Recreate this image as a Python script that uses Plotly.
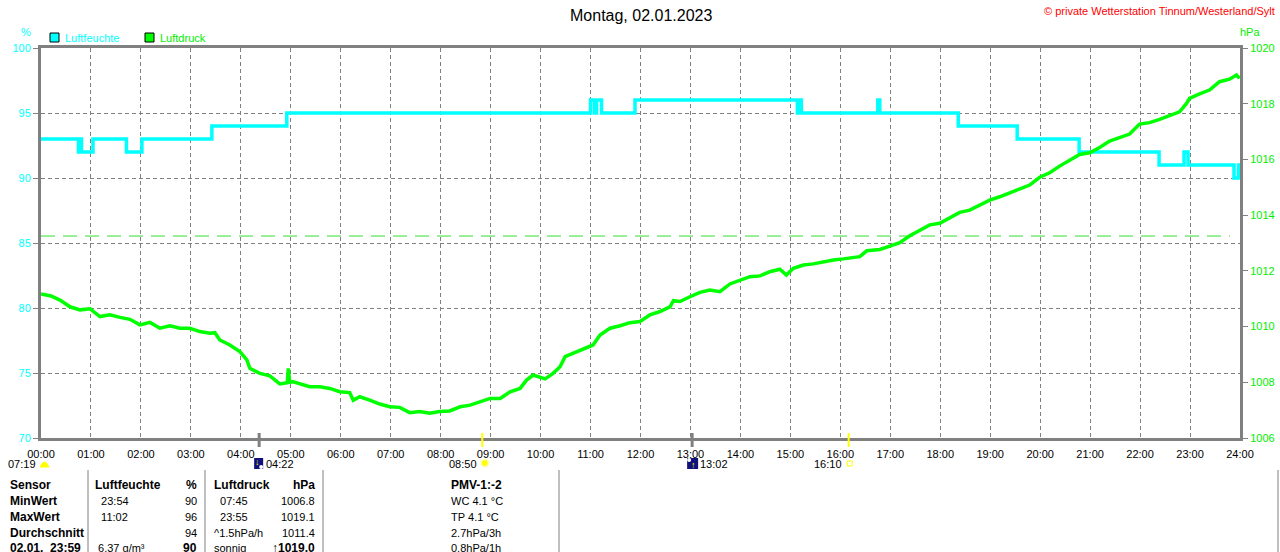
import plotly.graph_objects as go

# ---------------- data ----------------
HOURS = list(range(0, 25))
HOUR_LABELS = [f"{h:02d}:00" for h in HOURS]

HUM_TICKS = [70, 75, 80, 85, 90, 95, 100]
PRES_TICKS = [1006, 1008, 1010, 1012, 1014, 1016, 1018, 1020]

# Luftfeuchte (%) - step series, time in hours
H_TIME = [0.0, 0.75, 0.78, 0.81, 1.04, 1.71, 2.02, 3.42, 4.92, 11.00, 11.08, 11.12,
          11.22, 11.89, 15.14, 15.17, 15.22, 16.75, 16.79, 18.36, 19.54, 20.78,
          22.38, 22.88, 22.96, 23.88, 23.97, 24.0]
H_VAL = [93, 92, 93, 92, 93, 92, 93, 94, 95, 96, 95, 96,
         95, 96, 95, 96, 95, 96, 95, 94, 93, 92,
         91, 92, 91, 90, 91, 91]

# Luftdruck (hPa), time in hours
P_TIME = [0.0, 0.2, 0.38, 0.58, 0.78, 0.98, 1.18, 1.38, 1.58, 1.78, 1.98, 2.18, 2.38,
          2.58, 2.78, 2.98, 3.18, 3.38, 3.48, 3.58, 3.78, 3.98, 4.12, 4.18, 4.38, 4.58,
          4.78, 4.93, 4.95, 4.98, 5.05, 5.18, 5.38, 5.58, 5.78, 5.98, 6.18, 6.25, 6.38,
          6.58, 6.78, 6.98, 7.18, 7.38, 7.58, 7.78, 7.98, 8.18, 8.39, 8.59, 8.79, 8.99,
          9.19, 9.39, 9.59, 9.72, 9.85, 9.99, 10.09, 10.25, 10.39, 10.49, 10.65, 10.85,
          11.05, 11.19, 11.39, 11.59, 11.79, 11.99, 12.19, 12.39, 12.59, 12.66, 12.79,
          12.99, 13.19, 13.39, 13.59, 13.79, 13.99, 14.19, 14.39, 14.59, 14.79, 14.92,
          15.06, 15.26, 15.46, 15.66, 15.86, 16.06, 16.26, 16.39, 16.53, 16.79, 16.99,
          17.19, 17.39, 17.59, 17.79, 17.99, 18.19, 18.39, 18.59, 18.79, 18.99, 19.19,
          19.39, 19.59, 19.79, 19.99, 20.19, 20.39, 20.59, 20.79, 20.99, 21.19, 21.39,
          21.59, 21.79, 21.99, 22.19, 22.39, 22.59, 22.79, 22.93, 22.99, 23.19, 23.39,
          23.59, 23.79, 23.93, 23.99]
P_VAL = [1011.17, 1011.10, 1010.95, 1010.71, 1010.60, 1010.64, 1010.36, 1010.42, 1010.33,
         1010.26, 1010.06, 1010.15, 1009.94, 1010.03, 1009.94, 1009.94, 1009.82, 1009.76,
         1009.78, 1009.52, 1009.34, 1009.10, 1008.80, 1008.50, 1008.32, 1008.23, 1007.94,
         1007.98, 1008.50, 1008.00, 1008.02, 1007.96, 1007.84, 1007.84, 1007.78, 1007.66,
         1007.63, 1007.35, 1007.48, 1007.36, 1007.22, 1007.12, 1007.10, 1006.91, 1006.95,
         1006.89, 1006.95, 1006.97, 1007.12, 1007.18, 1007.30, 1007.42, 1007.42, 1007.66,
         1007.78, 1008.08, 1008.26, 1008.17, 1008.12, 1008.32, 1008.56, 1008.92, 1009.04,
         1009.16, 1009.34, 1009.70, 1009.94, 1010.03, 1010.14, 1010.18, 1010.42, 1010.54,
         1010.71, 1010.93, 1010.90, 1011.07, 1011.23, 1011.31, 1011.25, 1011.53, 1011.67,
         1011.79, 1011.82, 1011.97, 1012.06, 1011.85, 1012.09, 1012.21, 1012.25, 1012.33,
         1012.39, 1012.43, 1012.47, 1012.51, 1012.72, 1012.77, 1012.89, 1013.01, 1013.26,
         1013.47, 1013.65, 1013.71, 1013.89, 1014.10, 1014.18, 1014.36, 1014.54, 1014.66,
         1014.81, 1014.93, 1015.08, 1015.36, 1015.52, 1015.76, 1015.98, 1016.18, 1016.24,
         1016.43, 1016.66, 1016.79, 1016.91, 1017.27, 1017.32, 1017.44, 1017.56, 1017.71,
         1018.01, 1018.19, 1018.35, 1018.49, 1018.79, 1018.88, 1019.03, 1018.91]

STD_PRESSURE = 1013.25
STD_LINE_END = 23.8

# astronomical events (hours)
MOONSET = 4 + 22 / 60
SUNRISE = 8 + 50 / 60
MOONRISE = 13 + 2 / 60
SUNSET = 16 + 10 / 60
DAY_LENGTH = "07:19"

TITLE = "Montag, 02.01.2023"
COPYRIGHT = "© private Wetterstation Tinnum/Westerland/Sylt"

# info table
COL_SENSOR = ["Sensor", "MinWert", "MaxWert", "Durchschnitt", "02.01.  23:59"]
COL_H_TXT = ["Luftfeuchte", "  23:54", "  11:02", "", " 6.37 g/m³"]
COL_H_VAL = ["%", "90", "96", "94", "90"]
COL_P_TXT = ["Luftdruck", "  07:45", "  23:55", "^1.5hPa/h", "sonnig"]
COL_P_VAL = ["hPa", "1006.8", "1019.1", "1011.4", "↑1019.0"]
COL_PMV = ["PMV-1:-2", "WC 4.1 °C", "TP 4.1 °C", "2.7hPa/3h", "0.8hPa/1h"]

# ---------------- geometry ----------------
W, H = 1280, 552
L, R, T, B = 41, 1240, 48, 438
FONT = "Liberation Sans, Arial, sans-serif"
GRAY = "#808080"
CYAN = "#00ffff"
GREEN = "#00ee00"


def px(x):
    return (x - L) / (R - L)


def py(y):
    return (B - y) / (B - T)


def tx(t):
    return L + t / 24 * (R - L)


fig = go.Figure()
fig.add_trace(go.Scatter(x=P_TIME, y=P_VAL, yaxis="y2", mode="lines",
                         line=dict(color="#00ff00", width=3.5), name="Luftdruck",
                         showlegend=False, hoverinfo="skip"))
fig.add_trace(go.Scatter(x=H_TIME, y=H_VAL, mode="lines",
                         line=dict(color=CYAN, width=3.5, shape="hv"), name="Luftfeuchte",
                         showlegend=False, hoverinfo="skip"))

shapes = []
ann = []

# standard pressure reference line
shapes.append(dict(type="line", xref="x", yref="y2", x0=0, x1=STD_LINE_END,
                   y0=STD_PRESSURE, y1=STD_PRESSURE,
                   line=dict(color="#33dd33", width=1, dash="14px,8px"), layer="below"))

# title, copyright, axis units
ann.append(dict(text=TITLE, x=px(641), y=py(15), xref="paper", yref="paper",
                showarrow=False, xanchor="center", yanchor="middle",
                font=dict(family=FONT, size=16, color="black")))
ann.append(dict(text=COPYRIGHT, x=px(1277), y=py(11), xref="paper", yref="paper",
                showarrow=False, xanchor="right", yanchor="middle",
                font=dict(family=FONT, size=11, color="#ff0000")))
ann.append(dict(text="%", x=px(26), y=py(32), xref="paper", yref="paper",
                showarrow=False, xanchor="center", yanchor="middle",
                font=dict(family=FONT, size=11, color=CYAN)))
ann.append(dict(text="hPa", x=px(1250), y=py(32), xref="paper", yref="paper",
                showarrow=False, xanchor="center", yanchor="middle",
                font=dict(family=FONT, size=11, color=GREEN)))

# legend
for x0, col, txt, tcol in [(50, CYAN, "Luftfeuchte", CYAN), (145, "#00ff00", "Luftdruck", GREEN)]:
    shapes.append(dict(type="rect", xref="paper", yref="paper",
                       x0=px(x0), x1=px(x0 + 9), y0=py(42), y1=py(33),
                       fillcolor=col, line=dict(color="black", width=1)))
    ann.append(dict(text=txt, x=px(x0 + 13), y=py(38), xref="paper", yref="paper",
                    showarrow=False, xanchor="left", yanchor="middle",
                    font=dict(family=FONT, size=11, color=tcol)))

# event markers on the time axis
for t, col, w in [(MOONSET, GRAY, 3), (SUNRISE, "#ffff00", 2), (MOONRISE, GRAY, 3), (SUNSET, "#ffff00", 2)]:
    shapes.append(dict(type="line", xref="x", yref="paper", x0=t, x1=t,
                       y0=py(447), y1=py(433), line=dict(color=col, width=w)))

ROW_EV = 464
small = dict(family=FONT, size=11, color="black")
# day length + sunrise dome
ann.append(dict(text=DAY_LENGTH, x=px(38), y=py(ROW_EV), xref="paper", yref="paper",
                showarrow=False, xanchor="right", yanchor="middle", font=small))
shapes.append(dict(type="path", xref="paper", yref="paper",
                   path=f"M {px(40)},{py(467)} Q {px(44.5)},{py(457)} {px(49)},{py(467)} Z",
                   fillcolor="#ffff00", line=dict(color="#ffff00", width=1)))

# moonset icon
mx = tx(MOONSET)
shapes.append(dict(type="rect", xref="paper", yref="paper", x0=px(mx - 5), x1=px(mx + 4),
                   y0=py(469), y1=py(458), fillcolor="#10107a", line=dict(width=0)))
shapes.append(dict(type="circle", xref="paper", yref="paper", x0=px(mx), x1=px(mx + 4),
                   y0=py(469), y1=py(465), fillcolor="white", line=dict(width=0)))
ann.append(dict(text="<b>↓</b>", x=px(mx - 2), y=py(462), xref="paper", yref="paper",
                showarrow=False, xanchor="center", yanchor="middle",
                font=dict(family=FONT, size=9, color="#ffff00")))
ann.append(dict(text="04:22", x=px(mx + 5), y=py(ROW_EV), xref="paper", yref="paper",
                showarrow=False, xanchor="left", yanchor="middle", font=small))

# sunrise icon
sx = tx(SUNRISE)
shapes.append(dict(type="circle", xref="paper", yref="paper", x0=px(sx - 1), x1=px(sx + 6),
                   y0=py(466.5), y1=py(459.5), fillcolor="#ffff00",
                   line=dict(color="#ffff99", width=1.5)))
ann.append(dict(text="08:50", x=px(sx - 3), y=py(ROW_EV), xref="paper", yref="paper",
                showarrow=False, xanchor="right", yanchor="middle", font=small))

# moonrise icon
rx = tx(MOONRISE)
shapes.append(dict(type="rect", xref="paper", yref="paper", x0=px(rx - 5), x1=px(rx + 6),
                   y0=py(469), y1=py(458), fillcolor="#10107a", line=dict(width=0)))
shapes.append(dict(type="circle", xref="paper", yref="paper", x0=px(rx - 5), x1=px(rx - 1),
                   y0=py(462), y1=py(458), fillcolor="white", line=dict(width=0)))
ann.append(dict(text="<b>↑</b>", x=px(rx + 1), y=py(465), xref="paper", yref="paper",
                showarrow=False, xanchor="center", yanchor="middle",
                font=dict(family=FONT, size=9, color="#ffff00")))
ann.append(dict(text="13:02", x=px(rx + 6), y=py(ROW_EV), xref="paper", yref="paper",
                showarrow=False, xanchor="left", yanchor="middle", font=small))

# sunset icon
ux = tx(SUNSET)
shapes.append(dict(type="rect", xref="paper", yref="paper", x0=px(ux - 1.5), x1=px(ux + 3.5),
                   y0=py(466), y1=py(461), fillcolor="white",
                   line=dict(color="#ffff00", width=1)))
ann.append(dict(text="16:10", x=px(ux - 5), y=py(ROW_EV), xref="paper", yref="paper",
                showarrow=False, xanchor="right", yanchor="middle", font=small))

# info table
ROWS_Y = [485, 501, 517, 533, 548]
for xs in [88, 205, 323, 559, 1278]:
    shapes.append(dict(type="line", xref="paper", yref="paper", x0=px(xs), x1=px(xs),
                       y0=py(470), y1=py(560), line=dict(color=GRAY, width=1)))


def cell(text, x, y, anchor, bold):
    if not text:
        return
    ann.append(dict(text=(f"<b>{text}</b>" if bold else text).replace(" ", "&nbsp;"),
                    x=px(x), y=py(y), xref="paper", yref="paper",
                    showarrow=False, xanchor=anchor, yanchor="middle",
                    font=dict(family=FONT, size=12 if bold else 11, color="black")))


for i, yv in enumerate(ROWS_Y):
    head = i == 0
    last = i == len(ROWS_Y) - 1
    cell(COL_SENSOR[i], 8, yv, "left", True)
    cell(COL_H_TXT[i], 93, yv, "left", head)
    cell(COL_H_VAL[i], 199, yv, "right", head or last)
    cell(COL_P_TXT[i], 212, yv, "left", head)
    cell(COL_P_VAL[i], 317, yv, "right", head or last)
    cell(COL_PMV[i], 449, yv, "left", head)

fig.update_layout(
    width=W, height=H,
    margin=dict(l=L, r=W - R, t=T, b=H - B, autoexpand=False),
    paper_bgcolor="white", plot_bgcolor="white",
    showlegend=False,
    shapes=shapes, annotations=ann,
    xaxis=dict(range=[0, 24], tickvals=HOURS, ticktext=HOUR_LABELS,
               showgrid=True, gridcolor=GRAY, gridwidth=1, griddash="4px,3px",
               showline=True, linecolor=GRAY, linewidth=3, mirror=True,
               zeroline=False, ticks="", ticklabelstandoff=4,
               tickfont=dict(family=FONT, size=11, color="black")),
    yaxis=dict(range=[70, 100], tickvals=HUM_TICKS,
               showgrid=True, gridcolor=GRAY, gridwidth=1, griddash="4px,3px",
               showline=True, linecolor=GRAY, linewidth=3,
               zeroline=False, ticks="outside", ticklen=5, tickcolor=GRAY, tickwidth=1,
               tickfont=dict(family=FONT, size=11, color=CYAN)),
    yaxis2=dict(range=[1006, 1020], tickvals=PRES_TICKS, overlaying="y", side="right",
                showgrid=False, showline=True, linecolor=GRAY, linewidth=3,
                zeroline=False, ticks="outside", ticklen=5, tickcolor=GRAY, tickwidth=1,
                tickfont=dict(family=FONT, size=11, color=GREEN)),
)

fig.write_html("out.html", config={"displayModeBar": False},
               post_script="document.body.style.margin='0';document.body.style.overflow='hidden';")
